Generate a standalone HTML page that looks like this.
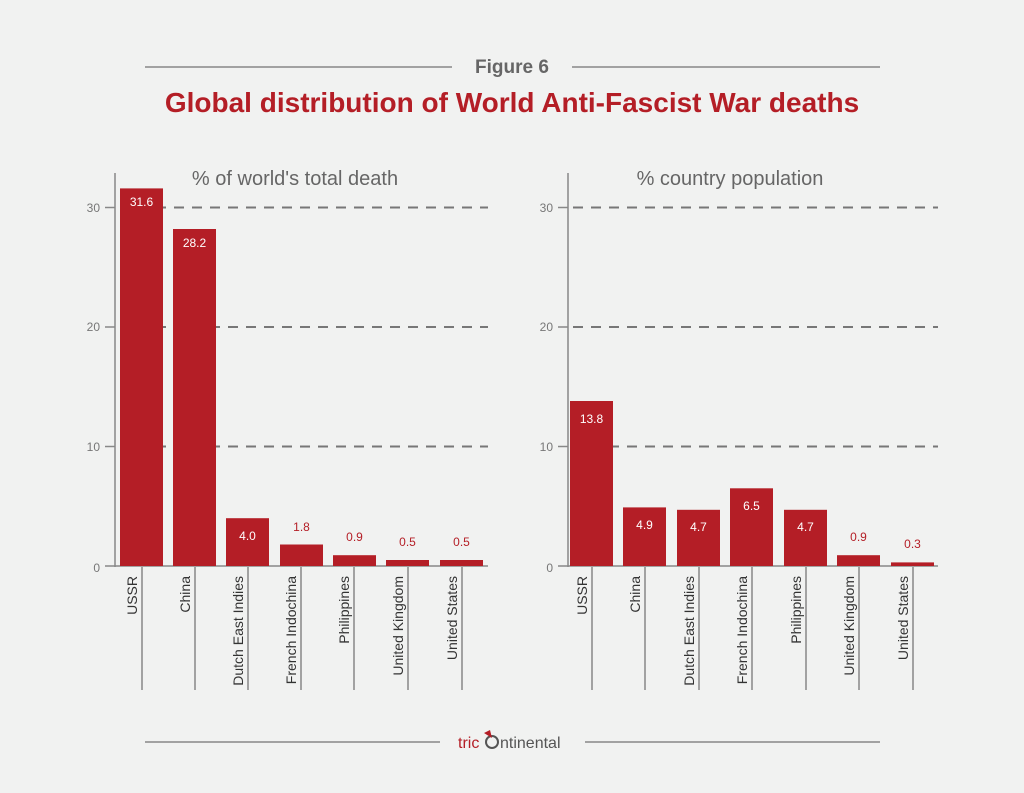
<!DOCTYPE html>
<html><head><meta charset="utf-8"><style>
body{margin:0;background:#f1f2f1;}
svg{display:block;font-family:"Liberation Sans",sans-serif;}
</style></head><body>
<svg width="1024" height="793" viewBox="0 0 1024 793">
<rect width="1024" height="793" fill="#f1f2f1"/>
<line x1="145" y1="67" x2="452" y2="67" stroke="#888" stroke-width="1.5"/>
<line x1="572" y1="67" x2="880" y2="67" stroke="#888" stroke-width="1.5"/>
<text x="512" y="73" text-anchor="middle" font-size="19" font-weight="bold" fill="#666">Figure 6</text>
<text x="512" y="112" text-anchor="middle" font-size="28" font-weight="bold" fill="#b41e26">Global distribution of World Anti-Fascist War deaths</text>

<text x="295" y="185" text-anchor="middle" font-size="20" fill="#666">% of world's total death</text>
<text x="730" y="185" text-anchor="middle" font-size="20" fill="#666">% country population</text>

<g stroke="#777" stroke-width="2" stroke-dasharray="10,8">
<line x1="120" y1="207.5" x2="488" y2="207.5"/><line x1="120" y1="327" x2="488" y2="327"/><line x1="120" y1="446.5" x2="488" y2="446.5"/>
<line x1="573" y1="207.5" x2="938" y2="207.5"/><line x1="573" y1="327" x2="938" y2="327"/><line x1="573" y1="446.5" x2="938" y2="446.5"/>
</g>
<g stroke="#888" stroke-width="1.5">
<line x1="115" y1="173" x2="115" y2="567"/><line x1="105" y1="566" x2="488" y2="566"/>
<line x1="105" y1="207.5" x2="115" y2="207.5"/><line x1="105" y1="327" x2="115" y2="327"/><line x1="105" y1="446.5" x2="115" y2="446.5"/>
<line x1="568" y1="173" x2="568" y2="567"/><line x1="558" y1="566" x2="938" y2="566"/>
<line x1="558" y1="207.5" x2="568" y2="207.5"/><line x1="558" y1="327" x2="568" y2="327"/><line x1="558" y1="446.5" x2="568" y2="446.5"/>
</g>
<g font-size="12" fill="#777" text-anchor="end">
<text x="100" y="212">30</text><text x="100" y="331">20</text><text x="100" y="451">10</text><text x="100" y="572">0</text>
<text x="553" y="212">30</text><text x="553" y="331">20</text><text x="553" y="451">10</text><text x="553" y="572">0</text>
</g>
<g fill="#b41e26">
<rect x="120" y="188.4" width="43" height="377.6"/>
<rect x="173" y="229" width="43" height="337"/>
<rect x="226" y="518.2" width="43" height="47.8"/>
<rect x="280" y="544.5" width="43" height="21.5"/>
<rect x="333" y="555.2" width="43" height="10.8"/>
<rect x="386" y="560" width="43" height="6"/>
<rect x="440" y="560" width="43" height="6"/>
<rect x="570" y="401" width="43" height="165"/>
<rect x="623" y="507.4" width="43" height="58.6"/>
<rect x="677" y="509.8" width="43" height="56.2"/>
<rect x="730" y="488.3" width="43" height="77.7"/>
<rect x="784" y="509.8" width="43" height="56.2"/>
<rect x="837" y="555.2" width="43" height="10.8"/>
<rect x="891" y="562.4" width="43" height="3.6"/>
</g>
<g font-size="12" fill="#fff" text-anchor="middle">
<text x="141.5" y="206">31.6</text><text x="194.5" y="247">28.2</text><text x="247.5" y="540">4.0</text>
<text x="591.5" y="423">13.8</text><text x="644.5" y="529">4.9</text><text x="698.5" y="531">4.7</text><text x="751.5" y="510">6.5</text><text x="805.5" y="531">4.7</text>
</g>
<g font-size="12" fill="#b41e26" text-anchor="middle">
<text x="301.5" y="531">1.8</text><text x="354.5" y="541">0.9</text><text x="407.5" y="546">0.5</text><text x="461.5" y="546">0.5</text>
<text x="858.5" y="541">0.9</text><text x="912.5" y="548">0.3</text>
</g>
<g stroke="#888" stroke-width="1.5">
<line x1="142" y1="567" x2="142" y2="690"/><line x1="195" y1="567" x2="195" y2="690"/><line x1="248" y1="567" x2="248" y2="690"/><line x1="301" y1="567" x2="301" y2="690"/><line x1="354" y1="567" x2="354" y2="690"/><line x1="408" y1="567" x2="408" y2="690"/><line x1="462" y1="567" x2="462" y2="690"/>
<line x1="592" y1="567" x2="592" y2="690"/><line x1="645" y1="567" x2="645" y2="690"/><line x1="699" y1="567" x2="699" y2="690"/><line x1="752" y1="567" x2="752" y2="690"/><line x1="806" y1="567" x2="806" y2="690"/><line x1="859" y1="567" x2="859" y2="690"/><line x1="913" y1="567" x2="913" y2="690"/>
</g>
<g font-size="14" fill="#333" text-anchor="end">
<text transform="translate(137,576) rotate(-90)">USSR</text>
<text transform="translate(190,576) rotate(-90)">China</text>
<text transform="translate(243,576) rotate(-90)">Dutch East Indies</text>
<text transform="translate(296,576) rotate(-90)">French Indochina</text>
<text transform="translate(349,576) rotate(-90)">Philippines</text>
<text transform="translate(403,576) rotate(-90)">United Kingdom</text>
<text transform="translate(457,576) rotate(-90)">United States</text>
<text transform="translate(587,576) rotate(-90)">USSR</text>
<text transform="translate(640,576) rotate(-90)">China</text>
<text transform="translate(694,576) rotate(-90)">Dutch East Indies</text>
<text transform="translate(747,576) rotate(-90)">French Indochina</text>
<text transform="translate(801,576) rotate(-90)">Philippines</text>
<text transform="translate(854,576) rotate(-90)">United Kingdom</text>
<text transform="translate(908,576) rotate(-90)">United States</text>
</g>
<line x1="145" y1="742" x2="440" y2="742" stroke="#888" stroke-width="1.5"/>
<line x1="585" y1="742" x2="880" y2="742" stroke="#888" stroke-width="1.5"/>
<text x="458" y="748" font-size="16" fill="#b41e26">tric</text>
<circle cx="492" cy="742" r="6" fill="none" stroke="#555" stroke-width="2"/>
<polygon points="484,733 490,730 492,738" fill="#b41e26"/>
<text x="500" y="748" font-size="16" fill="#555">ntinental</text>
</svg>
</body></html>
